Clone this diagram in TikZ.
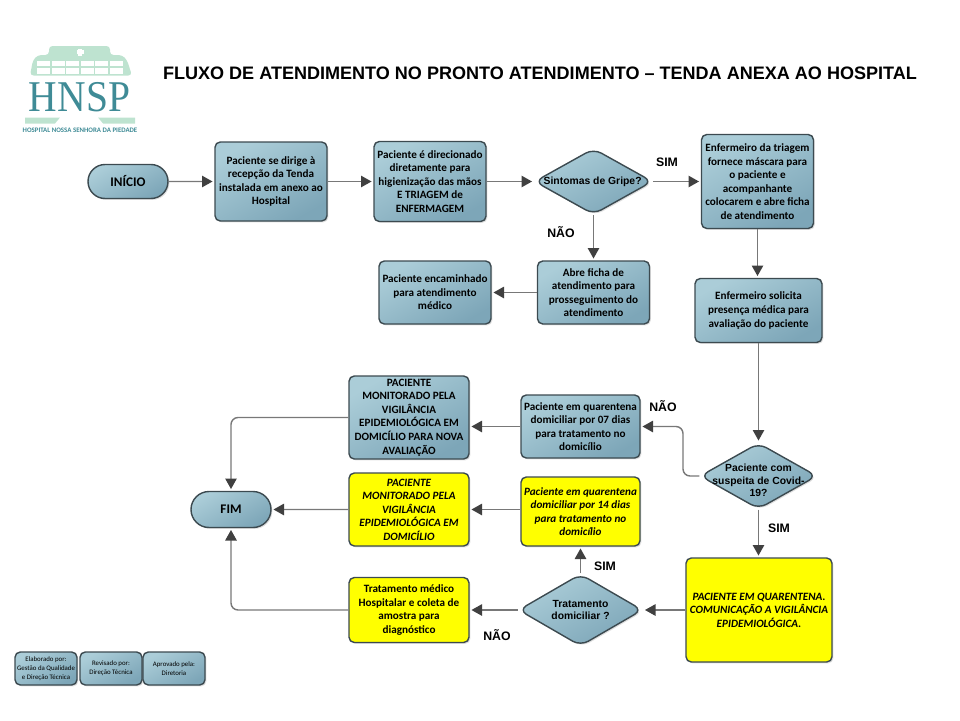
\documentclass[tikz,border=0pt]{standalone}
\usepackage{fontspec}
\setmainfont{Carlito}
\newfontfamily\arialfont{Liberation Sans}
\newfontfamily\timesfont{Liberation Serif}
\usetikzlibrary{arrows.meta, positioning, shapes.geometric, shapes.misc, shadows}

\definecolor{boxlight}{HTML}{ABCDD8}
\definecolor{boxdark}{HTML}{7DA6B8}
\definecolor{boxline}{HTML}{3C4A50}
\definecolor{boxyellow}{RGB}{255,255,0}
\definecolor{edgegray}{HTML}{787878}
\definecolor{tipgray}{HTML}{404040}
\definecolor{mint}{HTML}{BEE3D0}
\definecolor{hnspteal}{HTML}{3F8B96}

\tikzset{
    boxsize/.style 2 args={minimum width=#1*0.02cm, minimum height=#2*0.02cm},
    softshadow/.style={drop shadow={shadow xshift=0.8pt, shadow yshift=-0.8pt, opacity=0.25}},
    bluefill/.style={draw=boxline, line width=0.8pt, top color=boxlight, bottom color=boxdark, shading angle=30, softshadow},
    bluebox/.style={rectangle, rounded corners=3pt, bluefill, inner sep=0pt, align=center, font=\fontsize{6.35}{7.7}\selectfont\bfseries},
    yellowbox/.style={rectangle, rounded corners=3pt, draw=boxline, line width=0.8pt, fill=boxyellow, softshadow, inner sep=0pt, align=center, font=\fontsize{6.35}{7.7}\selectfont\bfseries},
    italicbox/.style={yellowbox, font=\fontsize{6.35}{7.7}\selectfont\bfseries\itshape},
    terminal/.style={rounded rectangle, bluefill, inner sep=0pt, font=\fontsize{7.5}{9}\selectfont\bfseries},
    decision/.style={diamond, aspect=1.75, rounded corners=5pt, bluefill, inner sep=0pt},
    decisiontext/.style={align=center, inner sep=0pt, font=\arialfont\fontsize{5.9}{7.2}\selectfont\bfseries},
    smallbox/.style={bluebox, font=\fontsize{3.9}{5.1}\selectfont},
    answer/.style={font=\arialfont\fontsize{7}{8}\selectfont\bfseries, inner sep=0pt},
    edge/.style={draw=edgegray, line width=0.8pt, rounded corners=4pt, shorten >=1pt, -{Triangle[length=6pt, width=6.5pt, color=tipgray]}}
}

\begin{document}
\begin{tikzpicture}[x=0.02cm, y=-0.02cm]
    \useasboundingbox (0,0) rectangle (960,720);

    % logo
    \fill[mint, rounded corners=2pt] (49,46) -- (110,46) -- (110,55) -- (122,55) -- (127,60) -- (132,75.5) -- (30,75.5) -- (33,60) -- (38,55) -- (49,55) -- cycle;
    \fill[mint] (25,117.5) -- (60,117.5) -- (55,123.5) -- (25,123.5) -- cycle;
    \fill[mint] (98,117.5) -- (135,117.5) -- (135,123.5) -- (103,123.5) -- cycle;
    \fill[white] (78,48.5) rectangle (82,55.5);
    \fill[white] (76.5,50) rectangle (83.5,54);
    \foreach \wx in {37,51.5,66,80.5,95,109.5} {
        \fill[white] (\wx,60.7) rectangle ++(13.2,5.5);
        \fill[white] (\wx,68) rectangle ++(13.2,6);
    }
    \node[text=hnspteal, inner sep=0pt, xscale=0.9, font=\timesfont\fontsize{25}{25}\selectfont] (hnsp) at (79.5,97.5) {HNSP};
    \node[text=hnspteal, inner sep=0pt, font=\fontsize{3.9}{4}\selectfont\bfseries] (hospital) at (80,130) {HOSPITAL NOSSA SENHORA DA PIEDADE};

    % title
    \node[inner sep=0pt, font=\arialfont\fontsize{10.27}{12}\selectfont\bfseries] (titulo) at (540,73) {FLUXO DE ATENDIMENTO NO PRONTO ATENDIMENTO – TENDA ANEXA AO HOSPITAL};

    % vertices
    \node[terminal, boxsize={80}{34}] (inicio) at (128,181.5) {INÍCIO};
    \node[bluebox, boxsize={112}{79}] (recepcao) at (271,181.5) {Paciente se dirige à\\recepção da Tenda\\instalada em anexo ao\\Hospital};
    \node[bluebox, boxsize={112}{80}] (triagem) at (430,181.5) {Paciente é direcionado\\diretamente para\\higienização das mãos\\E TRIAGEM de\\ENFERMAGEM};
    \node[decision, boxsize={118}{66}, label={[decisiontext, xshift=-0.5pt]center:Sintomas de Gripe?}] (gripe) at (593.5,181.5) {};
    \node[bluebox, boxsize={112}{94}] (mascara) at (757.5,181.5) {Enfermeiro da triagem\\fornece máscara para\\o paciente e\\acompanhante\\colocarem e abre ficha\\de atendimento};
    \node[bluebox, boxsize={112}{63}] (ficha) at (593.5,292.5) {Abre ficha de\\atendimento para\\prosseguimento do\\atendimento};
    \node[bluebox, boxsize={112}{63}] (medico) at (435,292.5) {Paciente encaminhado\\para atendimento\\médico};
    \node[bluebox, boxsize={127}{64}] (solicita) at (758.5,310.5) {Enfermeiro solicita\\presença médica para\\avaliação do paciente};
    \node[decision, boxsize={117}{66}, label={[decisiontext, yshift=-2.5pt]center:Paciente com\\suspeita de Covid-\\19?}] (covid) at (758.5,476) {};
    \node[italicbox, boxsize={146}{104}] (quarentena) at (759,610) {PACIENTE EM QUARENTENA.\\COMUNICAÇÃO A VIGILÂNCIA\\EPIDEMIOLÓGICA.};
    \node[decision, boxsize={124}{72}, label={[decisiontext]center:Tratamento\\domiciliar ?}] (domiciliar) at (580.5,610) {};
    \node[yellowbox, boxsize={120}{65}] (hospitalar) at (409,610) {Tratamento médico\\Hospitalar  e coleta de\\amostra para\\diagnóstico};
    \node[italicbox, boxsize={119}{69}] (dias14) at (580.5,511.5) {Paciente em quarentena\\domiciliar por 14 dias\\para tratamento no\\domicílio};
    \node[italicbox, boxsize={120}{73}] (monitorado) at (409,509.5) {PACIENTE\\MONITORADO PELA\\VIGILÂNCIA\\EPIDEMIOLÓGICA EM\\DOMICÍLIO};
    \node[bluebox, boxsize={119}{63}] (dias07) at (580.5,426.5) {Paciente em quarentena\\domiciliar por 07 dias\\para tratamento no\\domicílio};
    \node[bluebox, boxsize={120}{83}] (nova) at (409,417.5) {PACIENTE\\MONITORADO PELA\\VIGILÂNCIA\\EPIDEMIOLÓGICA EM\\DOMICÍLIO PARA NOVA\\AVALIAÇÃO};
    \node[terminal, boxsize={80}{36}] (fim) at (231,509.5) {FIM};

    % footer
    \node[smallbox, boxsize={62}{33}] (elaborado) at (46,668.5) {Elaborado por:\\Gestão da Qualidade\\e Direção Técnica};
    \node[smallbox, boxsize={62}{33}] (revisado) at (111,668.5) {Revisado por:\\Direção Técnica};
    \node[smallbox, boxsize={62}{33}] (aprovado) at (174,668.5) {Aprovado pela:\\Diretoria};

    % answers
    \node[answer] (simgripe) at (667,162) {SIM};
    \node[answer] (naogripe) at (561,232) {NÃO};
    \node[answer] (naocovid) at (663,406) {NÃO};
    \node[answer] (simcovid) at (779,528) {SIM};
    \node[answer] (simdomic) at (605,566) {SIM};
    \node[answer] (naodomic) at (497,635) {NÃO};

    % edges
    \coordinate (covidbend) at (683,450);
    \draw[edge] (inicio) -- (recepcao);
    \draw[edge] (recepcao) -- (triagem);
    \draw[edge] (triagem) -- (gripe);
    \draw[edge] (gripe) -- (mascara);
    \draw[edge] (gripe) -- (ficha);
    \draw[edge] (ficha) -- (medico);
    \draw[edge] (mascara) -- (mascara |- solicita.north);
    \draw[edge] (solicita) -- (covid);
    \draw[edge] (covid) -- (quarentena.north -| covid);
    \draw[edge] (covid.west) -- (covid.west -| covidbend) |- (dias07.east);
    \draw[edge] (dias07.west) -- (dias07.west -| nova.east);
    \draw[edge] (quarentena.west) -- (domiciliar.east);
    \draw[edge] (domiciliar) -- (hospitalar);
    \draw[edge] (domiciliar) -- (dias14);
    \draw[edge] (dias14.west |- monitorado.east) -- (monitorado.east);
    \draw[edge] (monitorado) -- (fim);
    \draw[edge] (nova.west) -| (fim.north);
    \draw[edge] (hospitalar.west) -| (fim.south);
\end{tikzpicture}
\end{document}
